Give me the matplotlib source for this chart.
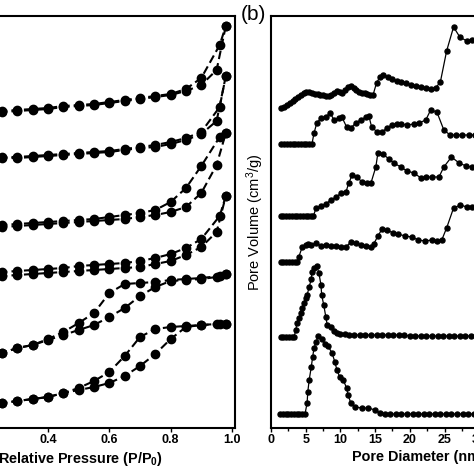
import matplotlib
matplotlib.use('Agg')
import matplotlib.pyplot as plt

plt.rcParams['font.family'] = ['Liberation Sans', 'DejaVu Sans']
plt.rcParams['mathtext.fontset'] = 'custom'
plt.rcParams['mathtext.rm'] = 'Liberation Sans'
plt.rcParams['mathtext.bf'] = 'Liberation Sans:bold'
plt.rcParams['mathtext.default'] = 'regular'

# (a) N2 isotherms, stacked (offset units)
p_ads = [0.05, 0.10, 0.15, 0.20, 0.25, 0.30, 0.35, 0.40, 0.45, 0.50,
         0.55, 0.60, 0.65, 0.70, 0.75, 0.80, 0.85, 0.90, 0.95, 0.98]
p_des = [0.05, 0.10, 0.15, 0.20, 0.25, 0.30, 0.35, 0.40, 0.45, 0.50,
         0.55, 0.60, 0.65, 0.70, 0.75, 0.80, 0.85, 0.90, 0.96, 0.98]

ads_1 = [306, 310, 313, 315, 316, 317, 318, 319, 321, 322, 323, 325, 327, 329, 331, 333, 337, 343, 358, 402]
des_1 = [307, 311, 314, 316, 317, 318, 319, 320, 322, 323, 324, 326, 328, 330, 332, 334, 339, 350, 383, 402]
ads_2 = [260, 264, 267, 269, 270, 270, 271, 272, 273, 274, 275, 276, 278, 280, 281, 284, 288, 294, 307, 352]
des_2 = [261, 265, 268, 270, 271, 271, 272, 273, 274, 275, 276, 277, 279, 281, 283, 286, 290, 296, 321, 352]
ads_3 = [193, 197, 199, 200, 201, 202, 203, 204, 205, 206, 207, 208, 209, 211, 213, 216, 221, 235, 263, 295]
des_3 = [196, 199, 201, 202, 203, 204, 205, 206, 207, 208, 209, 211, 213, 215, 218, 226, 240, 262, 291, 295]
ads_4 = [143, 147, 150, 151, 152, 153, 154, 155, 156, 157, 158, 159, 160, 161, 164, 167, 173, 181, 196, 232]
des_4 = [147, 151, 154, 155, 156, 157, 158, 159, 160, 162, 163, 164, 165, 167, 170, 174, 180, 189, 212, 232]
ads_5 = [52, 60, 66, 71, 75, 80, 83, 88, 93, 98, 103, 111, 120, 132, 141, 147, 148, 149, 151, 154]
des_5 = [52, 60, 66, 71, 75, 80, 83, 89, 96, 105, 115, 135, 144, 145, 146, 148, 149, 150, 152, 154]
ads_6 = [13, 18, 21, 23, 25, 27, 29, 31, 35, 38, 41, 45, 52, 62, 74, 89, 101, 103, 104, 104]
des_6 = [13, 18, 21, 23, 25, 27, 29, 31, 35, 40, 47, 56, 72, 91, 99, 101, 102, 103, 104, 104]

# (b) pore size distributions, stacked (offset units)
d_a = [1.5, 1.9, 2.3, 2.7, 3.1, 3.5, 3.9, 4.3, 4.7, 5.1, 5.5, 5.9, 6.3, 6.7, 7.1, 7.5, 7.9, 8.3, 8.7, 9.1,
       9.5, 9.9, 10.3, 10.7, 11.1, 11.5, 11.9, 12.3, 12.7, 13.1, 13.5, 13.9, 14.3, 14.7, 15.2, 15.7, 16.2, 16.8,
       17.4, 18.1, 18.8, 19.5, 20.2, 20.9, 21.6, 22.3, 23.0, 23.7, 24.4, 25.3, 26.3, 27.2, 28.2, 28.9, 29.7, 30.5]
v_a = [320, 321, 323, 325, 327, 329, 331, 333, 335, 336, 336, 335, 334, 334, 333, 333, 332, 332, 333, 335,
       337, 336, 335, 338, 341, 342, 340, 338, 336, 335, 335, 334, 333, 333, 345, 351, 353, 351,
       349, 347, 346, 345, 343, 342, 341, 340, 339, 340, 346, 377, 401, 391, 387, 388, 388, 387]

d_b = [1.5, 1.9, 2.3, 2.7, 3.1, 3.5, 3.9, 4.3, 4.7, 5.1, 5.5, 5.9, 6.2, 6.6, 7.2, 7.9, 8.5, 9.1, 9.8, 10.2,
       10.9, 11.5, 12.2, 12.9, 13.7, 14.1, 14.5, 15.3, 16.0, 16.7, 17.4, 18.1, 18.8, 19.6, 20.6, 21.3, 22.3,
       23.0, 23.9, 24.9, 25.8, 26.6, 27.5, 28.5, 29.4, 30.3]
v_b = [284, 284, 284, 284, 284, 284, 284, 284, 284, 284, 284, 284, 295, 305, 310, 311, 315, 308, 310, 311,
       301, 300, 305, 308, 311, 312, 301, 296, 296, 300, 303, 304, 304, 303, 304, 305, 308,
       318, 316, 298, 293, 293, 293, 293, 293, 293]

d_c = [1.4, 1.8, 2.2, 2.6, 3.0, 3.4, 3.8, 4.2, 4.6, 5.0, 5.4, 5.8, 6.1, 6.5, 7.2, 7.9, 8.6, 9.4, 10.1, 10.8,
       11.2, 11.7, 12.4, 13.1, 13.8, 14.4, 15.1, 15.4, 16.1, 17.0, 17.7, 18.7, 19.6, 20.6, 21.6, 22.3, 23.2,
       24.2, 24.9, 26.0, 27.1, 28.1, 28.9, 29.8]
v_c = [212, 212, 212, 212, 212, 212, 212, 212, 212, 212, 212, 212, 212, 220, 222, 224, 228, 231, 235, 236,
       245, 253, 251, 246, 245, 245, 261, 275, 274, 269, 265, 261, 257, 255, 250, 251, 251,
       251, 261, 271, 265, 262, 261, 261]

d_d = [1.4, 1.8, 2.2, 2.6, 3.0, 3.4, 3.7, 4.0, 4.5, 5.0, 5.4, 5.8, 6.5, 7.2, 7.9, 8.6, 9.4, 10.1, 10.8, 11.5,
       12.2, 12.9, 13.7, 14.4, 14.8, 15.4, 16.0, 16.7, 17.6, 18.3, 19.3, 20.3, 21.2, 22.2, 23.2, 23.9, 24.6,
       25.3, 26.3, 27.3, 28.2, 28.9, 29.8]
v_d = [166, 166, 166, 166, 166, 166, 166, 171, 181, 183, 184, 183, 185, 182, 183, 182, 182, 181, 181, 186,
       185, 183, 182, 181, 184, 192, 199, 198, 195, 194, 192, 191, 188, 187, 188, 187, 188,
       200, 220, 223, 221, 221, 221]

d_e = [1.4, 1.8, 2.2, 2.6, 3.0, 3.3, 3.6, 3.7, 4.0, 4.3, 4.5, 4.7, 5.0, 5.2, 5.5, 5.8, 5.9, 6.2, 6.6, 6.9,
       7.2, 7.3, 7.6, 7.9, 8.1, 8.6, 9.1, 9.5, 10.0, 10.6, 11.3, 12.0, 12.8, 13.6, 14.4, 15.2, 16.0, 16.8,
       17.6, 18.4, 19.2, 20.0, 20.8, 21.6, 22.4, 23.2, 24.0, 24.8, 25.6, 26.4, 27.2, 28.0, 28.8, 29.6, 30.4]
v_e = [91, 91, 91, 91, 91, 91, 98, 105, 110, 115, 120, 125, 130, 133, 141, 149, 156, 160, 162, 155,
       143, 133, 123, 111, 103, 101, 97, 95, 94, 94, 93, 93, 93, 93, 93, 93, 93, 93,
       93, 93, 93, 92, 92, 92, 92, 92, 92, 92, 92, 92, 92, 92, 92, 92, 92]

d_f = [1.3, 1.7, 2.1, 2.5, 2.9, 3.3, 3.7, 4.1, 4.5, 4.9, 5.2, 5.3, 5.5, 5.8, 6.0, 6.2, 6.5, 6.8, 7.3, 7.8,
       8.2, 8.8, 9.2, 9.5, 9.9, 10.4, 10.9, 11.1, 11.5, 12.1, 13.1, 14.0, 15.0, 15.7, 16.4, 17.2, 18.0, 18.8,
       19.6, 20.4, 21.2, 22.0, 22.8, 23.6, 24.4, 25.2, 26.0, 26.8, 27.6, 28.4, 29.2, 30.0]
v_f = [14, 14, 14, 14, 14, 14, 14, 14, 14, 14, 25, 36, 48, 61, 71, 80, 86, 92, 89, 84,
       82, 75, 66, 58, 51, 48, 40, 33, 25, 21, 20, 20, 18, 15, 14, 14, 14, 14,
       14, 14, 14, 14, 14, 14, 14, 14, 14, 14, 14, 14, 14, 14]

W = 474.0
fig = plt.figure(figsize=(4.74, 4.74), dpi=100)

# both panels run past the picture edges (cropped figure)
ax1 = fig.add_axes([-74.5 / W, 46 / W, 309.5 / W, 412 / W])
ax2 = fig.add_axes([271 / W, 46 / W, 295 / W, 412 / W])

ads = [ads_1, ads_2, ads_3, ads_4, ads_5, ads_6]
des = [des_1, des_2, des_3, des_4, des_5, des_6]
for a, d in zip(ads, des):
    ax1.plot(p_ads, a, color='black', ls=(0, (4, 2)), lw=1.5, marker='o', ms=6)
    ax1.plot(p_des, d, color='black', ls=(0, (4, 2)), lw=1.5, marker='o', ms=6)

ax1.set_xlim(0, 1.01)
ax1.set_ylim(0, 412)
ax1.set_xticks([0.0, 0.2, 0.4, 0.6, 0.8, 1.0])
ax1.set_xticklabels(['0.0', '0.2', '0.4', '0.6', '0.8', '1.0'])
ax1.set_yticks([])
ax1.set_xlabel(r'Relative Pressure (P/P$_\mathbf{0}$)', fontsize=10.4, fontweight='bold', labelpad=3)

psd = [(d_a, v_a), (d_b, v_b), (d_c, v_c), (d_d, v_d), (d_e, v_e), (d_f, v_f)]
for dx, vy in psd:
    ax2.plot(dx, vy, color='black', lw=0.9, marker='o', ms=3.6)

ax2.set_xlim(0, 42.5)
ax2.set_ylim(0, 412)
ax2.set_xticks([0, 5, 10, 15, 20, 25, 30, 35, 40])
ax2.set_xticks([2.5, 7.5, 12.5, 17.5, 22.5, 27.5, 32.5, 37.5], minor=True)
ax2.set_yticks([])
ax2.set_xlabel('Pore Diameter (nm)', fontsize=10.4, fontweight='bold', labelpad=3)

for ax in (ax1, ax2):
    for s in ax.spines.values():
        s.set_linewidth(1.5)
    ax.tick_params(axis='x', which='major', direction='out', length=3, width=1, labelsize=9, pad=1.5)
    ax.tick_params(axis='x', which='minor', direction='out', length=2, width=1)
    for lab in ax.get_xticklabels():
        lab.set_fontweight('bold')

fig.text(255 / W, 1 - 222 / W, 'Pore Volume (cm$^3$/g)', rotation=90,
         ha='center', va='center', fontsize=10.5)
fig.text(241 / W, 1 - 15 / W, '(b)', ha='left', va='center', fontsize=15)

plt.savefig('out.png', dpi=100)
